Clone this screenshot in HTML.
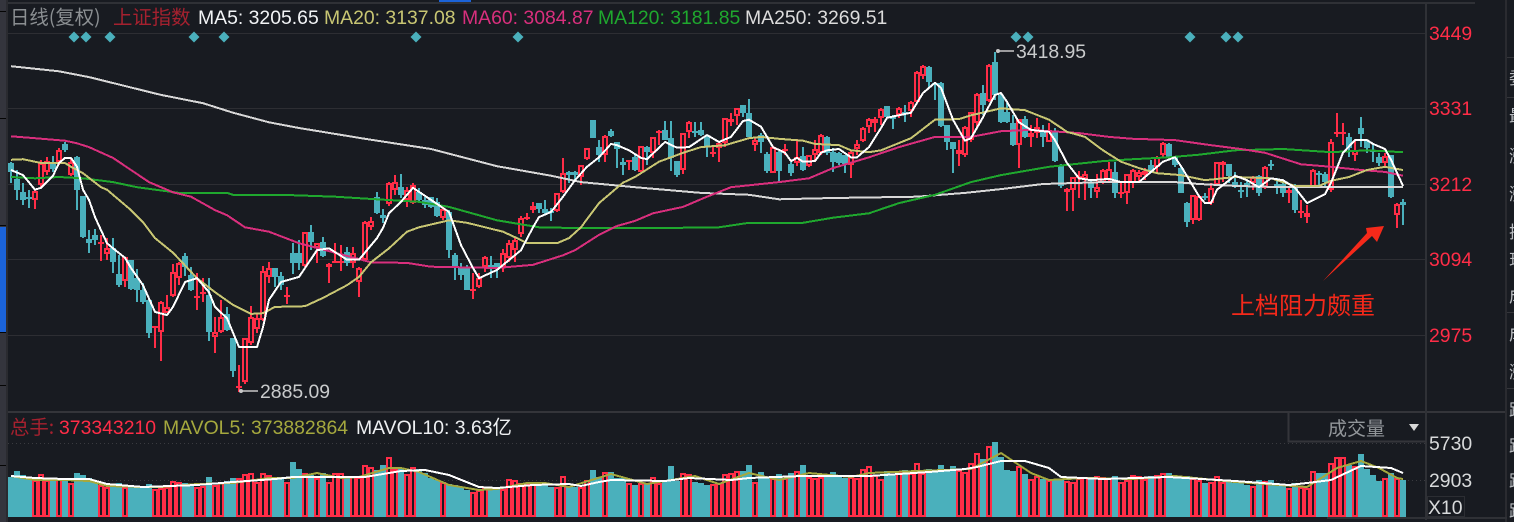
<!DOCTYPE html>
<html lang="zh">
<head>
<meta charset="utf-8">
<title>上证指数 日线</title>
<style>
html,body{margin:0;padding:0;width:1514px;height:522px;overflow:hidden;background:#181b21}
svg{display:block}
text{font-family:"Liberation Sans","Noto Sans CJK SC",sans-serif;font-size:19.4px}
.cjk{font-family:"Noto Sans CJK SC","Liberation Sans",sans-serif}
</style>
</head>
<body>
<svg id="chart" xmlns="http://www.w3.org/2000/svg" width="1514" height="522" viewBox="0 0 1514 522">
  <rect x="0" y="0" width="1514" height="522" fill="#181b21"/>

  <g shape-rendering="crispEdges">
    <rect x="0" y="0" width="6" height="522" fill="#34353d"/>
    <rect x="0" y="227" width="6" height="105" fill="#1b63d8"/>
    <rect x="6" y="0" width="2" height="522" fill="#2a2b30"/>
    <rect x="0" y="11" width="6" height="1" fill="#050505"/>
    <rect x="0" y="118" width="6" height="1" fill="#050505"/>
    <rect x="0" y="225" width="6" height="1" fill="#050505"/>
    <rect x="0" y="332" width="6" height="1" fill="#050505"/>
    <rect x="0" y="385" width="6" height="1" fill="#050505"/>
    <rect x="0" y="465" width="6" height="1" fill="#050505"/>
  </g>

  <g shape-rendering="crispEdges">
    <rect x="8" y="2" width="1467" height="2" fill="#2f3136"/>
    <rect x="439" y="0" width="32" height="2" fill="#1b63d8"/>
    <rect x="8" y="411" width="1498" height="2" fill="#34353a"/>
    <rect x="1425" y="2" width="2" height="518" fill="#2f3136"/>
    <rect x="1505" y="0" width="2" height="522" fill="#2a2b30"/>
    <rect x="1327" y="517" width="180" height="2" fill="#2f3136"/>
    <rect x="1507" y="57" width="7" height="1" fill="#34353a"/>
    <rect x="1507" y="97" width="7" height="1" fill="#34353a"/>
    <rect x="1507" y="312" width="7" height="1" fill="#34353a"/>
    <rect x="1507" y="388" width="7" height="1" fill="#34353a"/>
  </g>

  <g id="grid" shape-rendering="crispEdges"></g>
  <g id="volumes" shape-rendering="crispEdges"></g>
  <g id="candles" shape-rendering="crispEdges"></g>
  <g id="signals"></g>
  <g id="lines" fill="none" stroke-linejoin="round" shape-rendering="crispEdges"></g>
  <g id="ticks"></g>

  <g>
    <text class="cjk" x="10" y="24" fill="#8b8f92">日线(复权)</text>
    <text class="cjk" x="113" y="24" fill="#a5212f">上证指数</text>
    <text x="198" y="24" fill="#f2f4f6">MA5: 3205.65</text>
    <text x="324" y="24" fill="#c8c673">MA20: 3137.08</text>
    <text x="462" y="24" fill="#d92f7d">MA60: 3084.87</text>
    <text x="598" y="24" fill="#1fa82e">MA120: 3181.85</text>
    <text x="745" y="24" fill="#dcdcdc">MA250: 3269.51</text>
  </g>

  <g>
    <text class="cjk" x="10" y="434" fill="#a5212f">总手:</text>
    <text x="59" y="434" fill="#ff2d47">373343210</text>
    <text x="163" y="434" fill="#a5a83e">MAVOL5: 373882864</text>
    <text x="356" y="434" fill="#eef0f2">MAVOL10: 3.63亿</text>
  </g>

  <g>
    <line x1="997" y1="51" x2="1014" y2="51" stroke="#c8c8c8" stroke-width="1.5"/>
    <circle cx="998" cy="51" r="2" fill="#c8c8c8"/>
    <text x="1016" y="58" fill="#c9cbcc">3418.95</text>
    <line x1="240" y1="391" x2="258" y2="391" stroke="#c8c8c8" stroke-width="1.5"/>
    <circle cx="241" cy="391" r="2" fill="#c8c8c8"/>
    <text x="260" y="398" fill="#c9cbcc">2885.09</text>
  </g>

  <g>
    <path d="M1288.5 413V441.5H1426" fill="none" stroke="#34353a" stroke-width="2" shape-rendering="crispEdges"/>
    <text class="cjk" x="1328" y="435" style="font-size:19px" fill="#92969a">成交量</text>
    <path d="M1409 424H1419L1414 431Z" fill="#d8d8d8"/>
  </g>

  <g>
    <rect x="1427.5" y="496.5" width="37" height="20" fill="none" stroke="#2c2e33" shape-rendering="crispEdges"/>
    <text x="1428" y="514" fill="#d8dadb">X10</text>
  </g>

  <g>
    <polygon points="1323,281 1367,233 1366,228 1384,226 1377,242 1372,236" fill="#f5291a"/>
    <text class="cjk" x="1231" y="314" style="font-size:24px" fill="#f5291a">上档阻力颇重</text>
  </g>

  <g fill="#b9bcc0">
    <text class="cjk" x="1509" y="84" style="font-size:17px">委</text>
    <text class="cjk" x="1509" y="122" style="font-size:17px">最</text>
    <text class="cjk" x="1509" y="162" style="font-size:17px">涨</text>
    <text class="cjk" x="1509" y="200" style="font-size:17px">涨</text>
    <text class="cjk" x="1509" y="238" style="font-size:17px">换</text>
    <text class="cjk" x="1509" y="266" style="font-size:17px">现</text>
    <text class="cjk" x="1509" y="302" style="font-size:17px">成</text>
    <text class="cjk" x="1509" y="340" style="font-size:17px">成</text>
    <text class="cjk" x="1509" y="378" style="font-size:17px">涨</text>
    <text class="cjk" x="1509" y="416" style="font-size:17px">跌</text>
    <text class="cjk" x="1509" y="452" style="font-size:17px">跌</text>
    <text class="cjk" x="1509" y="487" style="font-size:17px">跌</text>
    <text class="cjk" x="1509" y="517" style="font-size:17px">跌</text>
  </g>
</svg>

<script>
var priceTicks = [3449, 3331, 3212, 3094, 2975];
var volumeTicks = [5730, 2903];
var signalBars = [10, 12, 16, 30, 35, 67, 84, 167, 169, 196, 202, 204];

var opens = [
3245,3220,3200,3192,3187,3210,3231,3247,3247,3275,
3226,3255,3193,3126,3132,3119,3102,3111,3071,3060,
3093,3064,3045,3030,2986,2980,3009,3036,3064,3099,
3069,3033,3041,3038,2972,2980,3008,2970,2893,2901,
2962,2984,2998,3066,3080,3067,3034,3104,3104,3083,
3137,3111,3121,3082,3088,3088,3105,3088,3058,3093,
3144,3192,3163,3181,3203,3207,3187,3182,3199,3187,
3192,3184,3159,3168,3100,3080,3080,3044,3050,3082,
3085,3088,3080,3096,3108,3133,3158,3171,3182,3173,
3170,3170,3199,3231,3231,3223,3251,3313,3270,3258,
3295,3278,3247,3248,3254,3231,3270,3261,3292,3297,
3284,3248,3234,3294,3295,3297,3286,3261,3269,3276,
3309,3319,3336,3324,3273,3289,3259,3229,3262,3264,
3243,3245,3256,3240,3258,3261,3286,3262,3261,3258,
3242,3267,3280,3302,3308,3316,3335,3317,3320,3325,
3327,3341,3382,3396,3371,3371,3305,3278,3259,3258,
3281,3308,3355,3342,3404,3352,3325,3308,3273,3314,
3286,3292,3297,3278,3294,3242,3199,3203,3221,3220,
3215,3199,3214,3218,3231,3198,3198,3214,3223,3226,
3242,3239,3258,3275,3254,3237,3182,3155,3155,3193,
3182,3210,3242,3243,3215,3203,3214,3214,3225,3206,
3243,3212,3212,3198,3207,3166,3160,3207,3229,3228,
3203,3292,3292,3286,3258,3300,3280,3265,3254,3245,3258,3163,3184];

var closes = [
3231,3203,3187,3188,3201,3245,3248,3236,3265,3265,
3247,3203,3129,3119,3124,3121,3111,3089,3053,3097,
3047,3045,3027,2978,2989,3027,3019,3074,3088,3082,
3045,3036,3042,2980,2980,3003,2983,2918,2895,2970,
3003,3001,3075,3080,3066,3053,3038,3088,3088,3137,
3121,3119,3099,3086,3091,3091,3088,3104,3080,3152,
3154,3166,3158,3214,3215,3195,3203,3210,3187,3179,
3176,3162,3173,3108,3080,3069,3045,3047,3064,3097,
3080,3080,3104,3119,3124,3158,3160,3177,3173,3166,
3166,3198,3229,3226,3226,3242,3268,3284,3258,3287,
3287,3267,3242,3250,3234,3272,3262,3286,3295,3281,
3253,3226,3292,3309,3294,3289,3270,3262,3276,3316,
3314,3331,3324,3286,3281,3278,3232,3270,3232,3267,
3229,3254,3234,3258,3267,3289,3261,3247,3245,3243,
3262,3275,3300,3314,3314,3330,3317,3316,3331,3324,
3341,3388,3397,3372,3369,3303,3278,3267,3265,3302,
3325,3353,3336,3399,3352,3309,3309,3273,3314,3286,
3292,3302,3286,3297,3248,3209,3204,3223,3225,3228,
3206,3207,3234,3236,3198,3199,3228,3234,3231,3232,
3231,3254,3276,3254,3242,3198,3152,3195,3193,3190,
3206,3247,3247,3225,3209,3201,3209,3223,3198,3239,
3240,3210,3198,3203,3171,3170,3166,3234,3226,3215,
3278,3294,3294,3269,3265,3291,3269,3262,3245,3256,3192,3181,3179];

var highs = [
3246,3234,3214,3203,3203,3250,3254,3256,3268,3278,
3253,3256,3193,3140,3141,3132,3127,3127,3100,3097,
3093,3078,3056,3031,2989,3028,3038,3086,3089,3104,
3082,3072,3064,3064,3003,3030,3019,2970,2928,2970,
3020,3009,3083,3089,3080,3074,3050,3119,3124,3137,
3148,3119,3129,3088,3119,3116,3113,3113,3082,3154,
3160,3199,3173,3215,3226,3228,3207,3214,3206,3192,
3192,3190,3179,3171,3104,3088,3085,3072,3072,3099,
3099,3088,3110,3124,3129,3162,3166,3184,3182,3187,
3174,3198,3253,3232,3232,3242,3268,3313,3281,3289,
3298,3278,3253,3250,3258,3272,3272,3286,3297,3311,
3311,3248,3292,3311,3309,3309,3289,3273,3278,3316,
3324,3331,3336,3346,3286,3292,3262,3272,3264,3275,
3247,3283,3270,3258,3281,3291,3287,3269,3262,3258,
3265,3281,3302,3316,3317,3331,3335,3320,3333,3336,
3342,3390,3399,3397,3371,3372,3305,3278,3281,3303,
3325,3355,3368,3400,3419,3355,3339,3320,3314,3319,
3305,3316,3305,3308,3300,3243,3206,3223,3232,3232,
3217,3228,3236,3247,3247,3215,3228,3236,3234,3237,
3250,3256,3278,3276,3254,3239,3184,3195,3195,3198,
3214,3247,3248,3243,3231,3215,3218,3225,3226,3240,
3250,3221,3218,3207,3212,3187,3179,3236,3232,3231,
3283,3324,3308,3292,3281,3317,3281,3276,3261,3261,3258,3182,3188];

var lows = [
3214,3187,3179,3174,3173,3206,3226,3231,3242,3262,
3225,3171,3127,3104,3116,3091,3093,3072,3050,3050,
3045,3027,3023,2970,2954,2934,3009,3034,3053,3067,
3044,3014,3027,2965,2946,2978,2981,2909,2885,2898,
2959,2978,2997,3056,3050,3045,3023,3071,3077,3082,
3108,3088,3097,3056,3088,3075,3083,3080,3034,3091,
3140,3165,3151,3177,3195,3190,3176,3181,3182,3174,
3174,3160,3155,3096,3061,3061,3045,3031,3048,3074,
3064,3064,3074,3089,3089,3129,3155,3166,3166,3163,
3154,3168,3198,3214,3218,3210,3250,3284,3247,3247,
3286,3237,3226,3234,3232,3231,3242,3253,3273,3281,
3232,3223,3228,3284,3286,3287,3254,3254,3247,3270,
3303,3305,3317,3286,3264,3261,3229,3229,3217,3258,
3225,3240,3232,3239,3247,3258,3258,3231,3242,3229,
3221,3258,3278,3292,3294,3305,3316,3298,3316,3309,
3317,3339,3377,3364,3344,3302,3265,3229,3240,3254,
3278,3302,3320,3341,3344,3308,3308,3272,3237,3284,
3270,3284,3270,3278,3247,3206,3170,3170,3190,3187,
3190,3190,3212,3217,3190,3190,3181,3206,3214,3218,
3229,3231,3254,3254,3239,3198,3144,3149,3154,3187,
3179,3209,3215,3214,3206,3190,3192,3203,3193,3204,
3234,3196,3192,3182,3166,3159,3151,3206,3207,3209,
3199,3286,3273,3254,3248,3270,3261,3247,3240,3239,3190,3143,3148];

var volumes = [
3132,3591,3285,3056,2903,3362,2903,3056,2980,3056,
2674,3438,3285,3056,2674,2521,2368,2521,2674,2368,
2521,2445,2368,2598,2216,2292,2368,2827,2750,2674,
2598,2368,2445,3132,2521,2750,2827,3056,3056,3362,
3438,2750,3438,3285,3132,2980,2750,4278,3744,3438,
3285,3056,3438,2750,3438,3438,3132,3209,3132,4049,
3896,3667,4049,4660,3744,3820,3362,3896,3744,3438,
3056,2903,2750,2598,2521,2368,2139,1986,2139,2292,
2216,2292,2216,2980,2903,2674,2674,2598,2598,2598,
2368,2368,3209,2445,2368,2368,2903,3667,3132,3514,
3514,3056,3056,2674,2521,2674,2674,3132,2674,2827,
3973,2827,3438,3362,2750,2674,2521,2598,2674,3362,
3438,3591,3591,4049,2750,3514,3056,3056,3362,3056,
3438,3591,4049,3132,3056,3132,3285,3514,3285,3056,
3132,3056,3744,3973,3285,2980,3591,3362,3591,3667,
3438,4202,3438,3744,3514,4049,3667,3973,3667,3514,
4202,4966,4508,5500,5806,4660,3667,3591,3973,3362,
2980,3209,2980,2903,2903,2980,2827,2750,3056,3132,
3132,3209,3132,3056,3209,2750,2903,3285,3209,2980,
3209,3285,3438,3438,3209,3209,3209,3056,2903,2674,
2750,3209,2750,2827,2674,2750,2521,2445,2903,2827,
2903,2674,2521,2292,2674,2368,2292,3591,3438,3438,
4202,4660,4660,4049,3973,4890,3744,3285,2827,3056,3438,3056,2903];

var ma5Bars = [0,2,4,5,7,8,9,10,11,12,13,14,16,17,19,20,22,24,26,27,29,31,33,34,36,38,41,42,43,45,48,51,53,56,58,61,62,63,65,67,70,73,75,77,78,81,85,87,88,90,92,94,96,98,100,101,103,105,106,109,111,113,116,118,120,122,123,125,127,129,130,131,132,134,135,136,138,140,141,143,145,146,150,152,154,155,157,159,160,162,164,165,166,168,170,173,174,176,178,180,183,185,188,190,192,194,195,198,199,200,201,204,206,208,210,212,214,216,219,220,222,224,226,227,229,230,232];
var ma5 = [3234,3226,3203,3206,3225,3245,3253,3253,3239,3203,3187,3160,3119,3111,3096,3080,3053,3011,3006,3019,3058,3064,3042,3019,3001,2956,2956,2987,3030,3058,3066,3108,3111,3093,3093,3127,3143,3166,3184,3206,3187,3168,3116,3080,3064,3077,3108,3144,3160,3168,3192,3218,3239,3254,3275,3273,3265,3253,3251,3278,3269,3270,3289,3278,3286,3311,3313,3302,3270,3261,3248,3253,3247,3248,3261,3265,3267,3254,3254,3270,3300,3316,3324,3355,3371,3363,3313,3280,3284,3317,3352,3355,3341,3309,3297,3294,3281,3245,3221,3218,3220,3215,3215,3231,3247,3254,3240,3193,3182,3182,3203,3225,3218,3207,3221,3218,3206,3182,3196,3214,3261,3281,3281,3275,3267,3250,3209];

var ma20Bars = [0,2,5,9,10,12,15,16,18,20,22,24,27,31,34,37,40,42,44,49,52,56,58,60,63,66,68,73,76,82,85,86,91,93,95,98,102,104,108,110,112,115,119,123,125,128,132,134,138,140,143,145,150,154,158,160,165,169,173,176,179,182,185,188,191,195,199,204,210,214,218,220,223,226,229,232];
var ma20 = [3250,3251,3245,3245,3239,3229,3207,3203,3187,3171,3152,3127,3104,3064,3042,3022,3008,3009,3019,3020,3033,3053,3066,3089,3111,3137,3144,3155,3151,3137,3124,3119,3119,3127,3144,3182,3214,3223,3247,3254,3261,3270,3273,3284,3286,3283,3280,3275,3273,3265,3262,3265,3284,3313,3314,3320,3331,3328,3313,3294,3286,3265,3247,3237,3229,3226,3218,3223,3221,3209,3209,3217,3223,3234,3239,3234];

var ma60Bars = [0,4,9,11,13,17,20,23,27,30,34,36,39,43,48,54,60,66,70,81,87,92,94,98,101,104,107,112,116,120,128,133,137,143,148,154,160,165,170,178,183,187,194,200,205,209,215,220,225,229,232];
var ma60 = [3287,3284,3280,3276,3270,3253,3234,3215,3199,3192,3171,3163,3144,3137,3119,3104,3089,3088,3082,3080,3085,3100,3108,3132,3146,3154,3166,3176,3192,3207,3215,3221,3237,3254,3270,3286,3286,3295,3297,3292,3286,3283,3281,3273,3267,3261,3243,3239,3234,3231,3225];

var ma120Bars = [0,4,8,12,17,21,28,36,37,45,54,61,68,73,81,88,93,100,110,118,123,132,137,143,148,154,160,165,173,182,187,193,198,204,212,220,226,232];
var ma120 = [3223,3221,3223,3221,3215,3207,3198,3198,3195,3195,3192,3188,3184,3176,3155,3144,3143,3143,3143,3144,3151,3151,3159,3166,3182,3195,3215,3226,3239,3248,3251,3254,3258,3265,3267,3262,3265,3262];

var ma250Bars = [0,8,13,19,25,32,37,43,48,59,70,81,90,95,104,115,123,128,137,151,159,165,172,182,194,198,204,212,232];
var ma250 = [3397,3389,3380,3366,3352,3339,3324,3309,3300,3283,3267,3240,3225,3215,3207,3198,3195,3188,3190,3192,3198,3204,3212,3215,3215,3212,3209,3207,3207];

var mavol5Bars = [0,4,9,13,16,22,25,31,37,43,47,51,55,58,63,65,68,73,78,81,86,89,93,100,106,112,114,118,123,128,133,140,143,151,160,165,170,173,179,187,194,204,209,216,221,225,228,231,232];
var mavol5 = [3209,2903,2903,2827,2445,2368,2368,2598,2674,3056,3056,3438,3056,3132,3820,3820,3514,2521,2139,2216,2674,2674,2368,3362,2598,3056,3209,2598,3438,2903,3438,3132,3438,3591,3744,4966,3438,2903,3056,2980,3209,2750,2598,2368,3820,4355,3820,3056,2980];

var mavol10Bars = [0,4,9,13,16,22,31,37,44,47,54,59,65,69,73,78,81,87,93,95,98,100,109,113,120,123,132,143,148,153,159,161,165,169,173,175,182,193,204,213,216,220,225,230,232];
var mavol10 = [3209,3056,2980,2980,2598,2368,2521,2750,2980,3132,3132,3132,3591,3667,3285,2368,2292,2521,2598,2445,2750,2903,2827,3056,2903,3056,3209,3209,3362,3514,3744,3896,4355,4355,3820,3132,2980,3132,2827,2521,2674,2903,3973,3820,3438];

var SVGNS = 'http://www.w3.org/2000/svg';
var UP = '#ff2d47';
var DOWN = '#4ab0bc';
var VOLUME_FLOOR = 517;

function barX(i) { return 11 + 6 * i; }
function priceY(p) { return 184 - (p - 3212) / 1.571; }
function volumeY(v) { return 518 - v / 76.4; }

function make(tag, parent, attrs) {
  var el = document.createElementNS(SVGNS, tag);
  for (var k in attrs) { el.setAttribute(k, attrs[k]); }
  parent.appendChild(el);
  return el;
}

var gridGroup = document.getElementById('grid');
var tickGroup = document.getElementById('ticks');
priceTicks.forEach(function (tick) {
  var y = Math.round(priceY(tick));
  var gridLine = make('rect', gridGroup, { x: 8, y: y, width: 1417, height: 1, fill: '#2d2e33' });
  
  
  var label = make('text', tickGroup, { x: 1429, y: y + 7, fill: UP });
  
  
  label.textContent = tick;
});
volumeTicks.forEach(function (tick) {
  var y = Math.round(volumeY(tick));
  var gridLine = make('line', gridGroup, { x1: 8, x2: 1425, y1: y + 0.5, y2: y + 0.5, stroke: '#3a3b40', 'stroke-dasharray': '1 3' });
  
  
  var label = make('text', tickGroup, { x: 1429, y: y + 7, fill: '#d8dadb' });
  
  
  label.textContent = tick;
});

var volGroup = document.getElementById('volumes');
volumes.forEach(function (v, i) {
  var up = closes[i] >= opens[i];
  var x = barX(i) - 3;
  var top = Math.round(volumeY(v));
  var bar;
  if (up) {
    bar = make('rect', volGroup, { x: x + 1, y: top + 1, width: 4, height: VOLUME_FLOOR - top - 2, fill: '#181b21', stroke: UP, 'stroke-width': 2 });
  } else {
    bar = make('rect', volGroup, { x: x, y: top, width: 6, height: VOLUME_FLOOR - top, fill: DOWN });
  }
  
  
});

var candleGroup = document.getElementById('candles');
opens.forEach(function (o, i) {
  var c = closes[i];
  var up = c >= o;
  var color = up ? UP : DOWN;
  var cx = barX(i);
  var top = Math.round(priceY(Math.max(o, c)));
  var bottom = Math.max(Math.round(priceY(Math.min(o, c))), top + 2);
  var hy = Math.round(priceY(highs[i]));
  var ly = Math.round(priceY(lows[i]));
  var g = make('g', candleGroup, {});
  
  
  if (hy < top) {
    make('rect', g, { x: cx - 1, y: hy, width: 2, height: top - hy, fill: color });
  }
  if (ly > bottom) {
    make('rect', g, { x: cx - 1, y: bottom, width: 2, height: ly - bottom, fill: color });
  }
  if (up && bottom - top > 3) {
    make('rect', g, { x: cx - 2, y: top + 1, width: 4, height: bottom - top - 2, fill: '#181b21', stroke: color, 'stroke-width': 2 });
  } else {
    make('rect', g, { x: cx - 3, y: top, width: 6, height: bottom - top, fill: color });
  }
});

var signalGroup = document.getElementById('signals');
signalBars.forEach(function (b) {
  var cx = barX(b) + 3;
  var d = make('path', signalGroup, { d: 'M' + cx + ' 31.5L' + (cx + 5.5) + ' 37L' + cx + ' 42.5L' + (cx - 5.5) + ' 37Z', fill: DOWN });
  
  
});

var lineGroup = document.getElementById('lines');
function drawLine(bars, values, yFn, color, width) {
  var pts = bars.map(function (b, k) { return barX(b) + ',' + yFn(values[k]).toFixed(1); }).join(' ');
  return make('polyline', lineGroup, { points: pts, stroke: color, 'stroke-width': width });
}
var lineMa250 = drawLine(ma250Bars, ma250, priceY, '#d8d8d8', 2);


var lineMa120 = drawLine(ma120Bars, ma120, priceY, '#1fa82e', 2);


var lineMa60 = drawLine(ma60Bars, ma60, priceY, '#d92f7d', 2);


var lineMa20 = drawLine(ma20Bars, ma20, priceY, '#c8c673', 2);


var lineMa5 = drawLine(ma5Bars, ma5, priceY, '#ffffff', 2);


var lineVol5 = drawLine(mavol5Bars, mavol5, volumeY, '#a5a83e', 2);


var lineVol10 = drawLine(mavol10Bars, mavol10, volumeY, '#ffffff', 2);


</script>
</body>
</html>
